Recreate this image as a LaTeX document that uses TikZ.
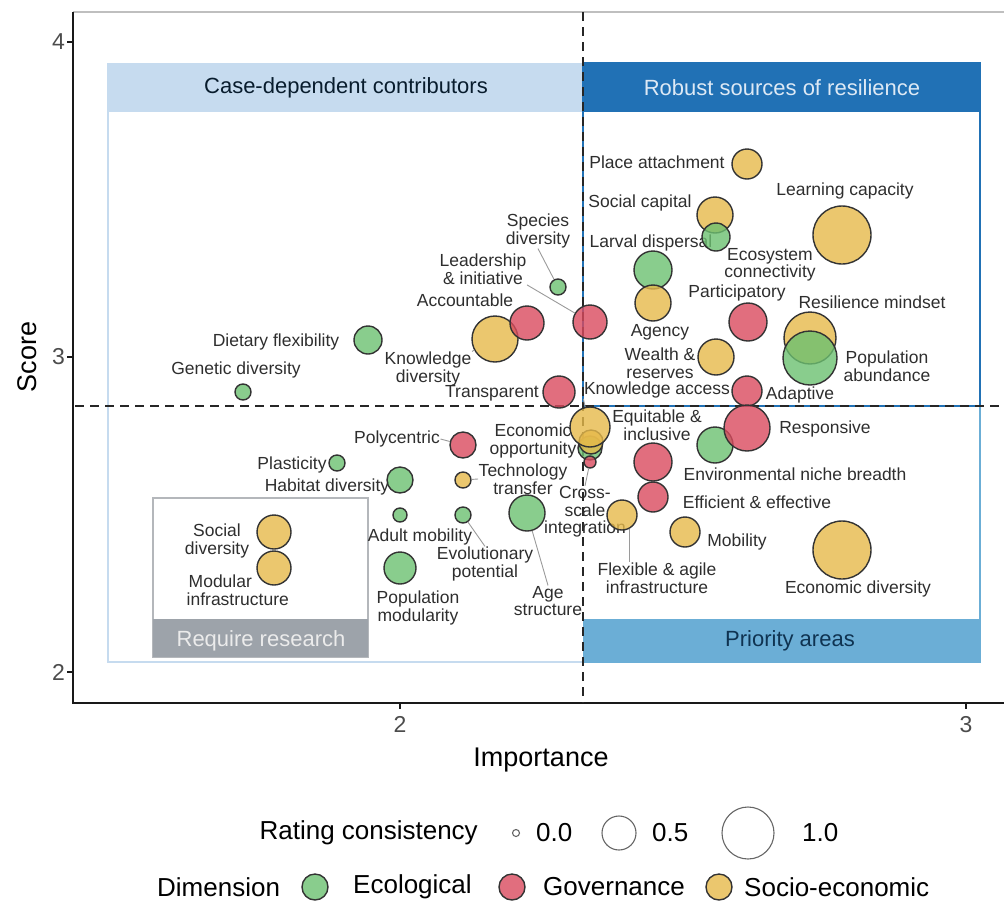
\documentclass[tikz,border=0pt]{standalone}
\usepackage{fontspec}
\setmainfont{Liberation Sans}

\definecolor{ecol}{HTML}{6CC070}
\definecolor{govc}{HTML}{D94A5E}
\definecolor{socc}{HTML}{E6B94A}
\definecolor{bubedge}{HTML}{333333}
\definecolor{labc}{HTML}{2E2E2E}
\definecolor{leadc}{HTML}{9A9A9A}
\definecolor{hdrlight}{HTML}{C6DBEF}
\definecolor{hdrdark}{HTML}{2171B5}
\definecolor{priob}{HTML}{6BAED6}
\definecolor{resgray}{HTML}{9DA3AA}
\definecolor{resedge}{HTML}{B4B7BB}

\newcommand{\labfont}{\fontsize{17.5}{17.5}\selectfont}
\newcommand{\hdrfont}{\fontsize{22}{24}\selectfont}
\newcommand{\tickfont}{\fontsize{23}{25}\selectfont}
\newcommand{\axfont}{\fontsize{27}{29}\selectfont}
\newcommand{\legfont}{\fontsize{26}{28}\selectfont}

\begin{document}
\begin{tikzpicture}[x=1pt,y=-1pt,
  bub/.style={circle,draw=bubedge,line width=1.4pt,fill opacity=0.8,inner sep=0pt,minimum size=#1*2pt},
  eco/.style={bub=#1,fill=ecol},
  gov/.style={bub=#1,fill=govc},
  soc/.style={bub=#1,fill=socc},
  lab/.style={font=\labfont,text=labc,align=center,inner sep=0.5pt},
  lead/.style={draw=leadc,line width=0.9pt},
  hdr/.style={font=\hdrfont,inner sep=0pt},
  guide/.style={black!85,line width=1.6pt,dash pattern=on 9pt off 6pt},
  keycirc/.style={circle,draw=black!60,line width=1.1pt,inner sep=0pt,minimum size=#1*2pt},
  ticklab/.style={font=\tickfont,text=black!70},
  axtitle/.style={font=\axfont},
  legtext/.style={font=\legfont,anchor=west,inner sep=0pt}]
\useasboundingbox (0,0) rectangle (1004,903);

% quadrant boxes
\fill[hdrlight] (107,63) rectangle (583,112);
\draw[hdrlight,line width=2pt] (108,112) -- (108,662) -- (583,662);
\fill[hdrdark] (583,63) rectangle (980,112);
\draw[hdrdark,line width=2.6pt] (583,63) rectangle (980,406);
\fill[priob] (583,619) rectangle (980,663);
\draw[priob,line width=2pt] (980,406) -- (980,663);
\draw[resedge,line width=2pt] (153,498) rectangle (368,657);
\fill[resgray] (153,619) rectangle (368,657);
\node[hdr,text=black!75!hdrdark] (tCase) at (346,88) {Case-dependent contributors};
\node[hdr,text=hdrlight!60!white] (tRobust) at (782,88) {Robust sources of resilience};
\node[hdr,text=hdrdark!45!black] (tPrio) at (790,641) {Priority areas};
\node[hdr,text=white!92!black] (tRes) at (261,641) {Require research};

% axes
\draw[black!25,line width=1.5pt] (73,12) -- (1004,12);
\draw[black!90,line width=2.2pt] (73,12) -- (73,703) -- (1004,703);
\foreach \yy/\sc in {42/4,357/3,672/2}
  \draw[black!90,line width=1.6pt] (67,\yy) -- (73,\yy) node[ticklab,left=4pt] {\sc};
\foreach \xx/\im in {400/2,966/3}
  \draw[black!90,line width=1.6pt] (\xx,703) -- (\xx,709) node[ticklab,below=3pt] {\im};
\node[axtitle] (xTitle) at (541,760) {Importance};
\node[axtitle,rotate=90] (yTitle) at (27,357) {Score};

% thresholds
\draw[guide] (583,12) -- (583,703);
\draw[guide] (75,406) -- (1004,406);

% labels
\node[lab] (lGenetic) at (236,370) {Genetic diversity};
\node[lab] (lDietary) at (276,342) {Dietary flexibility};
\node[lab] (lSpecies) at (538,231) {Species\\diversity};
\node[lab] (lLeader) at (483,269) {Leadership\\\& initiative};
\node[lab] (lAccount) at (465,300) {Accountable};
\node[lab] (lKnowDiv) at (428,369) {Knowledge\\diversity};
\node[lab] (lTransp) at (492,393) {Transparent};
\node[lab] (lPlace) at (657,162) {Place attachment};
\node[lab] (lSocCap) at (640,203) {Social capital};
\node[lab,anchor=west] (lLarval) at (589,243) {Larval dispersal};
\node[lab] (lLearn) at (845,191) {Learning capacity};
\node[lab] (lEcoCon) at (770,265) {Ecosystem\\connectivity};
\node[lab] (lAgency) at (660,332) {Agency};
\node[lab] (lPartic) at (737,293) {Participatory};
\node[lab] (lMindset) at (872,302) {Resilience mindset};
\node[lab] (lPopAb) at (887,366) {Population\\abundance};
\node[lab] (lWealth) at (660,363) {Wealth \&\\reserves};
\node[lab] (lKnowAcc) at (657,390) {Knowledge access};
\node[lab] (lAdapt) at (800,395) {Adaptive};
\node[lab] (lEquit) at (657,425) {Equitable \&\\inclusive};
\node[lab] (lRespon) at (825,429) {Responsive};
\node[lab] (lNiche) at (795,474) {Environmental niche breadth};
\node[lab] (lEffic) at (757,502) {Efficient \& effective};
\node[lab] (lCross) at (585,512) {Cross-\\scale\\integration};
\node[lab] (lFlex) at (657,578) {Flexible \& agile\\infrastructure};
\node[lab] (lMobil) at (737,542) {Mobility};
\node[lab] (lEconDiv) at (858,589) {Economic diversity};
\node[lab] (lPoly) at (397,439) {Polycentric};
\node[lab] (lEconOpp) at (533,441) {Economic\\opportunity};
\node[lab] (lTech) at (523,479) {Technology\\transfer};
\node[lab] (lPlast) at (292,465) {Plasticity};
\node[lab] (lHabit) at (327,487) {Habitat diversity};
\node[lab] (lAdult) at (420,537) {Adult mobility};
\node[lab] (lEvol) at (485,564) {Evolutionary\\potential};
\node[lab] (lAge) at (548,601) {Age\\structure};
\node[lab] (lPopMod) at (418,608) {Population\\modularity};
\node[lab] (lSocDiv) at (217,541) {Social\\diversity};
\node[lab,align=left,anchor=west] (lModul) at (186,590) {\hspace*{2pt}Modular\\infrastructure};

% bubbles
\node[eco=8] (bGenetic) at (243,392) {};
\node[eco=14] (bDietary) at (368,340) {};
\node[eco=8] (bSpecies) at (558,287) {};
\node[soc=23] (bKnowDiv) at (495,339) {};
\node[gov=17] (bAccount) at (527,323) {};
\node[gov=17] (bLeader) at (590,322) {};
\node[gov=16] (bTransp) at (559,392) {};
\node[soc=15] (bPlace) at (747,164) {};
\node[soc=18] (bSocCap) at (715,215) {};
\node[eco=14] (bLarval) at (716,237) {};
\node[soc=29] (bLearn) at (842,235) {};
\node[eco=19] (bEcoCon) at (653,270) {};
\node[soc=18] (bAgency) at (653,303) {};
\node[gov=19] (bPartic) at (748,322) {};
\node[soc=26] (bMindset) at (810,338) {};
\node[eco=27] (bPopAb) at (810,358) {};
\node[soc=18] (bWealth) at (716,357) {};
\node[gov=15] (bAdapt) at (747,391) {};
\node[eco=12] (bEconGr) at (590,448) {};
\node[soc=12] (bEconOpp) at (591,442) {};
\node[soc=20] (bKnowAcc) at (590,427) {};
\node[gov=6] (bCross) at (590,462) {};
\node[eco=18] (bNiche) at (715,445) {};
\node[gov=23] (bRespon) at (747,428) {};
\node[gov=19] (bEquit) at (653,462) {};
\node[gov=15] (bEffic) at (653,497) {};
\node[soc=15] (bFlex) at (622,515) {};
\node[soc=15] (bMobil) at (685,532) {};
\node[soc=29] (bEconDiv) at (842,550) {};
\node[gov=13] (bPoly) at (463,445) {};
\node[soc=8] (bTech) at (463,480) {};
\node[eco=8] (bPlast) at (337,463) {};
\node[eco=13] (bHabit) at (400,480) {};
\node[eco=7] (bAdult) at (400,515) {};
\node[eco=8] (bEvol) at (463,515) {};
\node[eco=18] (bAge) at (527,513) {};
\node[eco=16] (bPopMod) at (400,568) {};
\node[soc=17] (bSocDiv) at (274,532) {};
\node[soc=17] (bModul) at (274,568) {};

% leader lines
\draw[lead] (lSpecies.south) -- (bSpecies);
\draw[lead] (lLeader.south east) -- (bLeader);
\draw[lead] (lKnowDiv.north east) -- (bKnowDiv);
\draw[lead] (lKnowAcc.south west) -- (bKnowAcc);
\draw[lead] (lPoly.east) -- (bPoly);
\draw[lead] (lTech.west) -- (bTech);
\draw[lead] (bEvol) -- (lEvol.north);
\draw[lead] (bAge) -- (lAge.north);
\draw[lead] (bCross) -- (lCross.north);
\draw[lead] (bFlex.-60) -- (bFlex.-60 |- lFlex.north);

% legend
\node[legtext,anchor=east] (lgRating) at (478,833) {Rating consistency};
\node[keycirc=3.5] (lgC0) at (516,833) {};
\node[legtext] (lgT0) at (536,833) {0.0};
\node[keycirc=17] (lgC5) at (619,833) {};
\node[legtext] (lgT5) at (652,833) {0.5};
\node[keycirc=26] (lgC10) at (748,833) {};
\node[legtext] (lgT10) at (802,833) {1.0};
\node[legtext] (lgDim) at (157,887) {Dimension};
\node[eco=13] (lgEco) at (315,887) {};
\node[legtext] (lgEcoT) at (353,887) {Ecological};
\node[gov=13] (lgGov) at (512,887) {};
\node[legtext] (lgGovT) at (543,887) {Governance};
\node[soc=13] (lgSoc) at (719,887) {};
\node[legtext] (lgSocT) at (744,887) {Socio-economic};
\end{tikzpicture}
\end{document}
